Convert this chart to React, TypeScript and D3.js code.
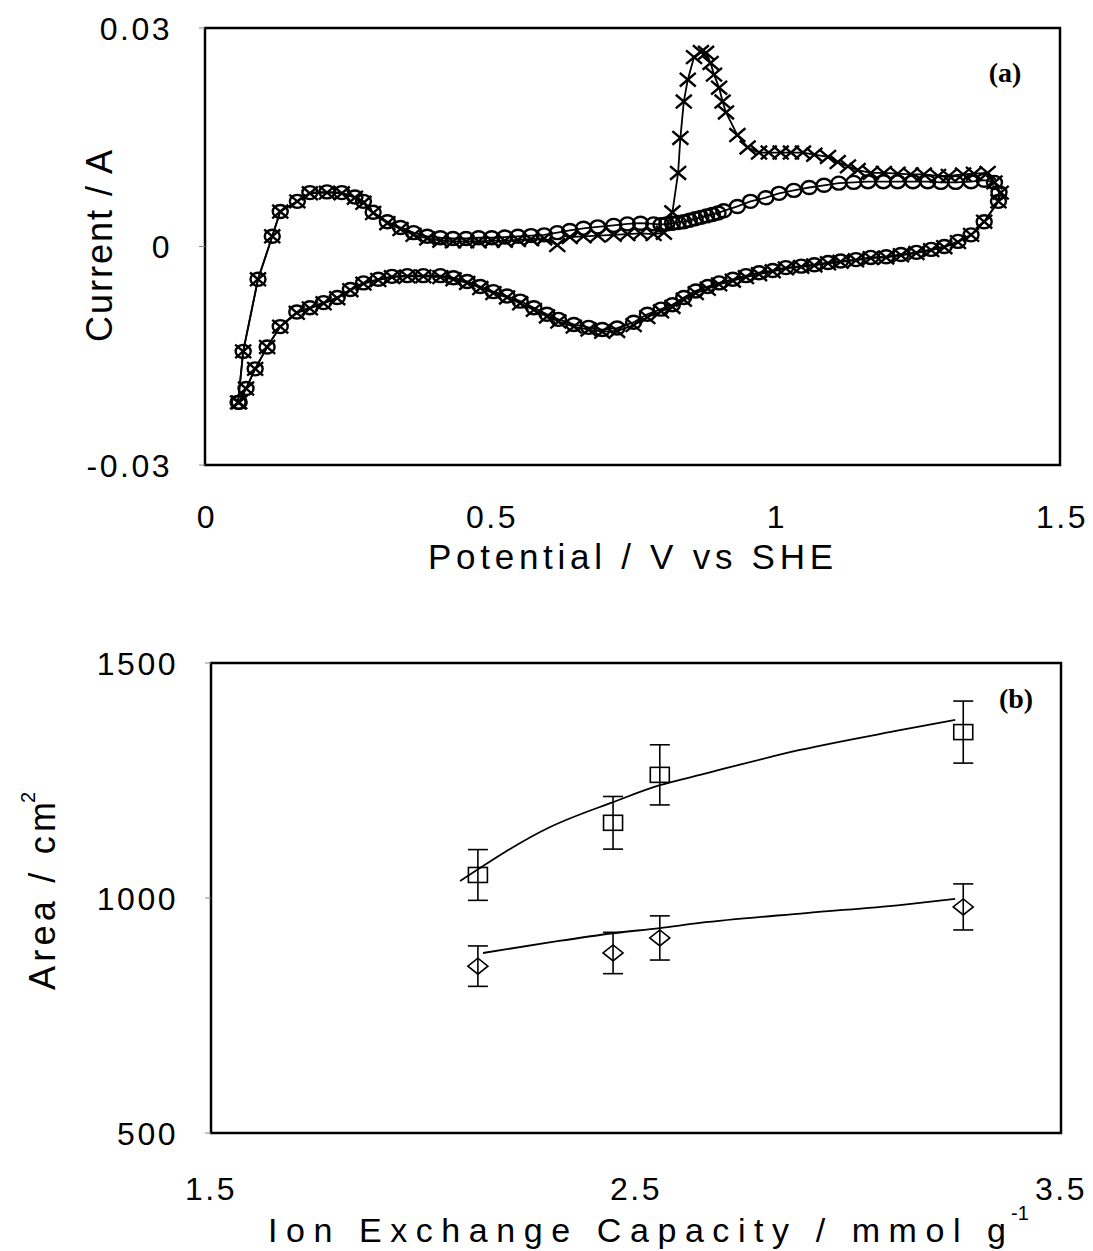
import React from 'react';
import * as d3 from 'd3';

// ---------- Panel (a): cyclic voltammograms [potential V, current A] ----------
const cvCircles: [number, number][] = [
  [0.058, -0.0214], [0.067, -0.0144], [0.093, -0.0045], [0.118, 0.0014], [0.132, 0.0048],
  [0.162, 0.0062], [0.184, 0.0074], [0.214, 0.0075], [0.24, 0.0074], [0.263, 0.0068],
  [0.278, 0.0062], [0.295, 0.0047], [0.32, 0.0034], [0.343, 0.0026], [0.366, 0.0019],
  [0.39, 0.0014], [0.413, 0.0012], [0.435, 0.0011], [0.458, 0.0011], [0.48, 0.0012],
  [0.503, 0.0012], [0.526, 0.0013], [0.549, 0.0014], [0.572, 0.0015], [0.595, 0.0016],
  [0.618, 0.0019], [0.64, 0.0022], [0.664, 0.0025], [0.689, 0.0027], [0.717, 0.0029],
  [0.741, 0.0031], [0.764, 0.0032], [0.787, 0.0031], [0.8, 0.003], [0.81, 0.0031],
  [0.82, 0.0032], [0.83, 0.0033], [0.84, 0.0034], [0.85, 0.0036], [0.86, 0.0038],
  [0.87, 0.004], [0.88, 0.0042], [0.89, 0.0044], [0.9, 0.0046], [0.91, 0.0049],
  [0.934, 0.0055], [0.957, 0.0062], [0.984, 0.0067], [1.007, 0.0073], [1.033, 0.0077],
  [1.06, 0.0081], [1.086, 0.0084], [1.112, 0.0087], [1.138, 0.0088], [1.163, 0.0089],
  [1.19, 0.0089], [1.215, 0.0089], [1.242, 0.0089], [1.268, 0.0089], [1.291, 0.0088],
  [1.317, 0.0088], [1.344, 0.0089], [1.367, 0.0091], [1.385, 0.0088], [1.393, 0.0074],
  [1.392, 0.0062], [1.367, 0.0034], [1.344, 0.0016], [1.321, 0.0007], [1.297, 0.0],
  [1.274, -0.0004], [1.248, -0.0008], [1.221, -0.0011], [1.195, -0.0014], [1.168, -0.0015],
  [1.142, -0.0018], [1.115, -0.002], [1.093, -0.0022], [1.069, -0.0025], [1.046, -0.0027],
  [1.019, -0.0029], [0.996, -0.0033], [0.972, -0.0036], [0.949, -0.004], [0.926, -0.0045],
  [0.902, -0.005], [0.882, -0.0055], [0.861, -0.0061], [0.84, -0.007], [0.82, -0.008],
  [0.8, -0.0086], [0.776, -0.0093], [0.752, -0.0104], [0.723, -0.0112], [0.697, -0.0114],
  [0.673, -0.0111], [0.647, -0.0107], [0.62, -0.01], [0.6, -0.0093], [0.577, -0.0084],
  [0.553, -0.0075], [0.53, -0.0068], [0.506, -0.0062], [0.483, -0.0055], [0.46, -0.0048],
  [0.436, -0.0043], [0.413, -0.004], [0.383, -0.004], [0.355, -0.004], [0.328, -0.0041],
  [0.304, -0.0045], [0.278, -0.005], [0.255, -0.0059], [0.232, -0.007], [0.208, -0.0077],
  [0.184, -0.0084], [0.161, -0.009], [0.132, -0.011], [0.109, -0.0138], [0.088, -0.0168],
  [0.072, -0.0195], [0.06, -0.0214],
];

const cvCrosses: [number, number][] = [
  [0.058, -0.0214], [0.067, -0.0144], [0.093, -0.0045], [0.118, 0.0014], [0.132, 0.0048],
  [0.162, 0.0062], [0.184, 0.0073], [0.214, 0.0074], [0.24, 0.0073], [0.263, 0.0067],
  [0.278, 0.006], [0.295, 0.0046], [0.32, 0.0032], [0.343, 0.0024], [0.366, 0.0016],
  [0.39, 0.0011], [0.413, 0.0008], [0.435, 0.0007], [0.458, 0.0007], [0.48, 0.0007],
  [0.503, 0.0008], [0.526, 0.0008], [0.549, 0.0009], [0.572, 0.001], [0.595, 0.0011],
  [0.618, 0.0002], [0.64, 0.0013], [0.664, 0.0014], [0.689, 0.0015], [0.717, 0.0016],
  [0.741, 0.0017], [0.764, 0.0018], [0.787, 0.0017], [0.805, 0.0019], [0.82, 0.0047],
  [0.83, 0.0101], [0.834, 0.0149], [0.84, 0.0199], [0.847, 0.0229], [0.858, 0.026],
  [0.87, 0.0267], [0.879, 0.0266], [0.887, 0.0252], [0.893, 0.0236], [0.902, 0.0218],
  [0.908, 0.0199], [0.914, 0.0184], [0.934, 0.0153], [0.952, 0.0136], [0.972, 0.0129],
  [0.989, 0.0129], [1.01, 0.0129], [1.028, 0.0129], [1.049, 0.0129], [1.069, 0.0126],
  [1.093, 0.0123], [1.11, 0.0116], [1.128, 0.011], [1.145, 0.0105], [1.168, 0.0101],
  [1.191, 0.0101], [1.215, 0.01], [1.238, 0.0099], [1.261, 0.0099], [1.286, 0.0097],
  [1.305, 0.0097], [1.33, 0.0099], [1.349, 0.01], [1.373, 0.0101], [1.385, 0.0088],
  [1.396, 0.0074],
  [1.392, 0.0062], [1.367, 0.0034], [1.344, 0.0016], [1.321, 0.0006], [1.297, -0.0001],
  [1.274, -0.0005], [1.248, -0.0009], [1.221, -0.0012], [1.195, -0.0015], [1.168, -0.0016],
  [1.142, -0.0019], [1.115, -0.0021], [1.093, -0.0023], [1.069, -0.0026], [1.046, -0.0028],
  [1.019, -0.003], [0.996, -0.0034], [0.972, -0.0038], [0.949, -0.0042], [0.926, -0.0047],
  [0.902, -0.0052], [0.882, -0.0058], [0.861, -0.0064], [0.84, -0.0073], [0.82, -0.0083],
  [0.8, -0.0089], [0.776, -0.0097], [0.752, -0.0108], [0.723, -0.0116], [0.697, -0.0117],
  [0.673, -0.0114], [0.647, -0.011], [0.62, -0.0103], [0.6, -0.0096], [0.577, -0.0087],
  [0.553, -0.0078], [0.53, -0.007], [0.506, -0.0064], [0.483, -0.0057], [0.46, -0.005],
  [0.436, -0.0045], [0.413, -0.0042], [0.383, -0.0041], [0.355, -0.0041], [0.328, -0.0042],
  [0.304, -0.0046], [0.278, -0.0051], [0.255, -0.006], [0.232, -0.0071], [0.208, -0.0078],
  [0.184, -0.0085], [0.161, -0.0091], [0.132, -0.011], [0.109, -0.0138], [0.088, -0.0168],
  [0.072, -0.0195], [0.06, -0.0214],
];

const potentialTicks = [0, 0.5, 1, 1.5];
const potentialTickLabels = ['0', '0.5', '1', '1.5'];
const currentTicks = [-0.03, 0, 0.03];
const currentTickLabels = ['-0.03', '0', '0.03'];

// ---------- Panel (b): area vs ion exchange capacity ----------
const iecValues = [2.128, 2.446, 2.556, 3.27];
const areaSquares = [1049, 1160, 1262, 1353];
const errSquares = [54, 56, 64, 66];
const areaDiamonds = [855, 883, 915, 981];
const errDiamonds = [43, 44, 47, 49];
const fitSquares: [number, number][] = [
  [2.086, 1036], [2.298, 1151], [2.446, 1204], [2.556, 1240], [2.651, 1262],
  [2.886, 1315], [3.121, 1357], [3.251, 1379],
];
const fitDiamonds: [number, number][] = [
  [2.14, 883], [2.3, 906], [2.446, 925], [2.556, 936], [2.65, 947],
  [2.9, 968], [3.121, 985], [3.251, 998],
];
const iecTicks = [1.5, 2.5, 3.5];
const iecTickLabels = ['1.5', '2.5', '3.5'];
const areaTicks = [500, 1000, 1500];
const areaTickLabels = ['500', '1000', '1500'];

const SANS = '"Liberation Sans", Arial, Helvetica, sans-serif';
const SERIF = '"Liberation Serif", "Times New Roman", serif';

export default function App() {
  const xA = d3.scaleLinear().domain([0, 1.5]).range([205, 1060]);
  const yA = d3.scaleLinear().domain([-0.03, 0.03]).range([465, 28]);
  const xB = d3.scaleLinear().domain([1.5, 3.5]).range([211, 1061]);
  const yB = d3.scaleLinear().domain([500, 1500]).range([1133, 663]);

  const lineA = d3.line<[number, number]>().x((d) => xA(d[0])).y((d) => yA(d[1]));
  const lineB = d3
    .line<[number, number]>()
    .x((d) => xB(d[0]))
    .y((d) => yB(d[1]))
    .curve(d3.curveMonotoneX);

  const tickFont = { fontFamily: SANS, fontSize: 32, letterSpacing: 2.5 } as const;

  return (
    <svg
      width={1093}
      height={1251}
      style={{ position: 'absolute', left: 0, top: 0, background: '#fff' }}
    >
      <rect x={0} y={0} width={1093} height={1251} fill="#fff" />

      {/* ===== Panel (a) ===== */}
      <g>
        <path d={lineA(cvCircles) || ''} fill="none" stroke="#000" strokeWidth={1.8} />
        <path d={lineA(cvCrosses) || ''} fill="none" stroke="#000" strokeWidth={1.8} />
        {cvCircles.map((d, i) => (
          <ellipse
            key={'c' + i}
            cx={xA(d[0])}
            cy={yA(d[1])}
            rx={7.5}
            ry={6.5}
            fill="none"
            stroke="#000"
            strokeWidth={2.4}
          />
        ))}
        {cvCrosses.map((d, i) => {
          const cx = xA(d[0]);
          const cy = yA(d[1]);
          const s = 8;
          return (
            <path
              key={'x' + i}
              d={`M${cx - s},${cy - s * 0.85}L${cx + s},${cy + s * 0.85}M${cx - s},${cy + s * 0.85}L${cx + s},${cy - s * 0.85}`}
              stroke="#000"
              strokeWidth={2.4}
            />
          );
        })}
        <rect
          x={xA(0)}
          y={yA(0.03)}
          width={xA(1.5) - xA(0)}
          height={yA(-0.03) - yA(0.03)}
          fill="none"
          stroke="#000"
          strokeWidth={2.5}
        />
        {currentTicks.map((t, i) => (
          <g key={'ya' + i}>
            <line x1={xA(0) - 6} x2={xA(0)} y1={yA(t)} y2={yA(t)} stroke="#888" strokeWidth={1} />
            <text x={172} y={yA(t)} dy="0.36em" textAnchor="end" {...tickFont}>
              {currentTickLabels[i]}
            </text>
          </g>
        ))}
        {potentialTicks.map((t, i) => (
          <text key={'xa' + i} x={xA(t) + 2} y={528} textAnchor="middle" {...tickFont}>
            {potentialTickLabels[i]}
          </text>
        ))}
        <text x={428} y={569} fontFamily={SANS} fontSize={35} textLength={405} lengthAdjust="spacing">
          Potential / V vs SHE
        </text>
        <text
          transform="translate(112,342) rotate(-90)"
          fontFamily={SANS}
          fontSize={36}
          textLength={192}
          lengthAdjust="spacing"
        >
          Current / A
        </text>
        <text x={1005} y={82} textAnchor="middle" fontFamily={SERIF} fontWeight="bold" fontSize={28}>
          (a)
        </text>
      </g>

      {/* ===== Panel (b) ===== */}
      <g>
        <path d={lineB(fitSquares) || ''} fill="none" stroke="#000" strokeWidth={1.8} />
        <path d={lineB(fitDiamonds) || ''} fill="none" stroke="#000" strokeWidth={1.8} />
        {iecValues.map((x, i) => {
          const cx = xB(x);
          const cy = yB(areaSquares[i]);
          const top = yB(areaSquares[i] + errSquares[i]);
          const bot = yB(areaSquares[i] - errSquares[i]);
          return (
            <g key={'sq' + i} stroke="#000" strokeWidth={1.6} fill="none">
              <line x1={cx} x2={cx} y1={top} y2={bot} />
              <line x1={cx - 10} x2={cx + 10} y1={top} y2={top} />
              <line x1={cx - 10} x2={cx + 10} y1={bot} y2={bot} />
              <rect x={cx - 9.5} y={cy - 7.5} width={19} height={15} fill="none" />
            </g>
          );
        })}
        {iecValues.map((x, i) => {
          const cx = xB(x);
          const cy = yB(areaDiamonds[i]);
          const top = yB(areaDiamonds[i] + errDiamonds[i]);
          const bot = yB(areaDiamonds[i] - errDiamonds[i]);
          return (
            <g key={'di' + i} stroke="#000" strokeWidth={1.6} fill="none">
              <line x1={cx} x2={cx} y1={top} y2={bot} />
              <line x1={cx - 10} x2={cx + 10} y1={top} y2={top} />
              <line x1={cx - 10} x2={cx + 10} y1={bot} y2={bot} />
              <path d={`M${cx - 10},${cy}L${cx},${cy - 8}L${cx + 10},${cy}L${cx},${cy + 8}Z`} fill="none" />
            </g>
          );
        })}
        <rect
          x={xB(1.5)}
          y={yB(1500)}
          width={xB(3.5) - xB(1.5)}
          height={yB(500) - yB(1500)}
          fill="none"
          stroke="#000"
          strokeWidth={2.5}
        />
        {areaTicks.map((t, i) => (
          <g key={'yb' + i}>
            <line x1={xB(1.5) - 6} x2={xB(1.5)} y1={yB(t)} y2={yB(t)} stroke="#888" strokeWidth={1} />
            <text x={178} y={yB(t)} dy="0.36em" textAnchor="end" {...tickFont}>
              {areaTickLabels[i]}
            </text>
          </g>
        ))}
        {iecTicks.map((t, i) => (
          <text key={'xb' + i} x={xB(t)} y={1200} textAnchor="middle" {...tickFont}>
            {iecTickLabels[i]}
          </text>
        ))}
        <text x={268} y={1242} fontFamily={SANS} fontSize={34} textLength={738} lengthAdjust="spacing">
          Ion Exchange Capacity / mmol g
        </text>
        <text x={1011} y={1220} fontFamily={SANS} fontSize={20}>
          -1
        </text>
        <g transform="translate(55,990) rotate(-90)">
          <text x={0} y={0} fontFamily={SANS} fontSize={36} textLength={188} lengthAdjust="spacing">
            Area / cm
          </text>
          <text x={187} y={-20} fontFamily={SANS} fontSize={20}>
            2
          </text>
        </g>
        <text x={1016} y={708} textAnchor="middle" fontFamily={SERIF} fontWeight="bold" fontSize={28}>
          (b)
        </text>
      </g>
    </svg>
  );
}
